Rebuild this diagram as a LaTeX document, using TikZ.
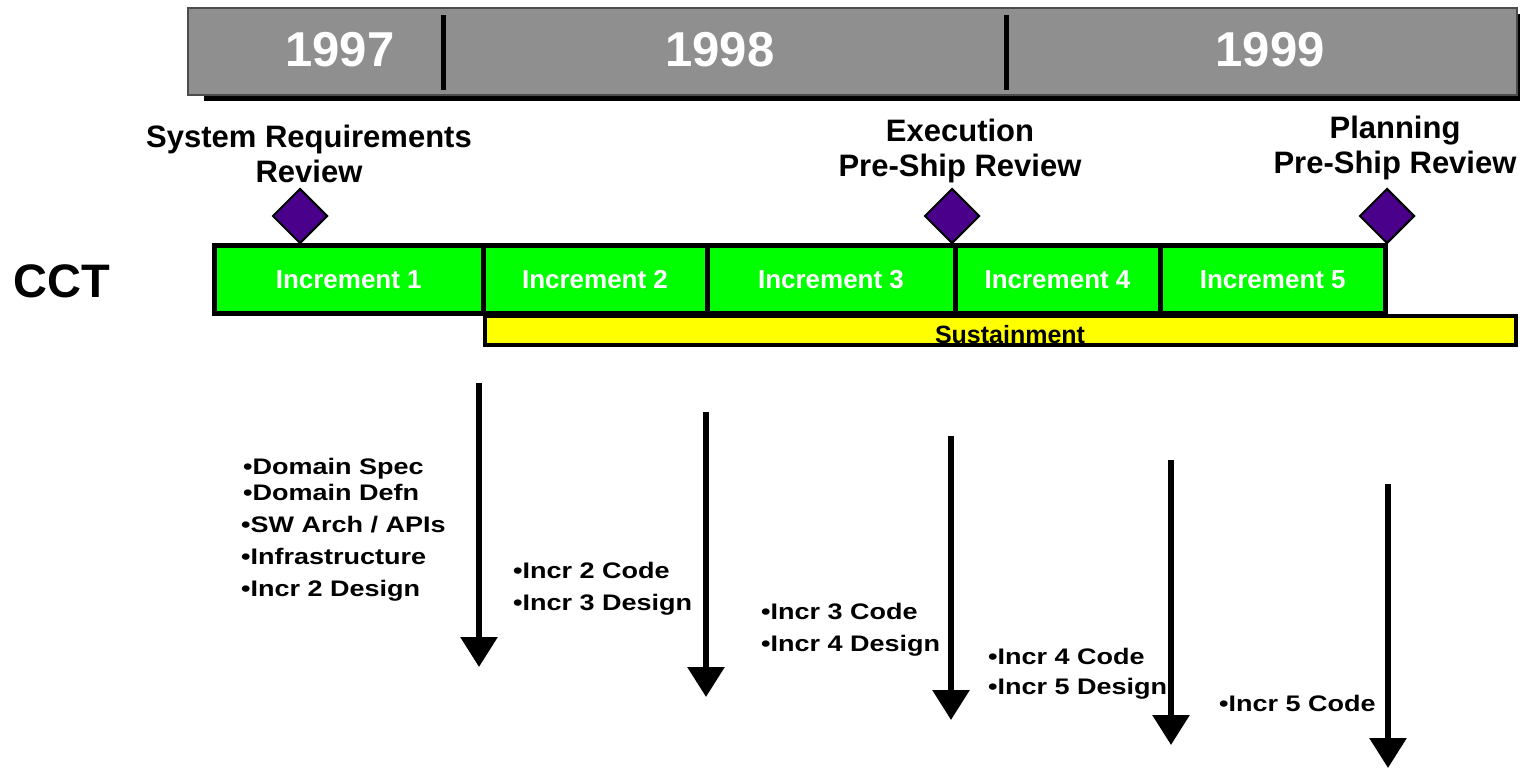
\documentclass[tikz,border=0pt]{standalone}
\usepackage{fontspec}
\setmainfont{Liberation Sans}
\newfontfamily\bulletfont[FakeStretch=1.2]{Liberation Sans}
\usetikzlibrary{
    arrows.meta,
    %backgrounds,
    %calc,
    positioning,
    shadows,
    shapes.geometric,
}
\definecolor{yeargray}{RGB}{143,143,143}
\definecolor{incrgreen}{RGB}{0,255,0}
\definecolor{sustyellow}{RGB}{255,255,0}
\definecolor{milepurple}{RGB}{75,0,140}

\begin{document}
\begin{tikzpicture}[x=1pt, y=-1pt,
    years/.style = {draw=black!70, line width=2pt, fill=yeargray, minimum width=1329pt, minimum height=87pt,
        drop shadow={shadow xshift=16pt, shadow yshift=-6pt, fill=black, opacity=1}},
    year/.style = {text=white, font=\fontsize{49}{50}\selectfont\bfseries},
    incr/.style = {draw, line width=5pt, fill=incrgreen, text=white, outer sep=0pt, inner sep=0pt,
        minimum height=68pt, font=\fontsize{26}{30}\selectfont\bfseries},
    sust/.style = {draw, line width=4pt, fill=sustyellow, minimum width=1031pt, minimum height=29pt},
    milestone/.style = {draw, diamond, line width=2pt, fill=milepurple, inner sep=0pt, minimum width=55pt, minimum height=55pt},
    review/.style = {align=center, anchor=base, inner sep=0pt, font=\fontsize{31}{35}\selectfont\bfseries},
    item/.style = {anchor=base west, inner sep=0pt, font=\bulletfont\fontsize{22.5}{26}\selectfont\bfseries},
    flow/.style = {line width=6pt, -{Triangle[width=36pt,length=30pt]}}]
    \useasboundingbox (0,0) rectangle (1520,768);

    \node[years] (yb) at (852.5,51.5) {};
    \draw[line width=5pt] (443,15) -- (443,90);
    \draw[line width=5pt] (1006,15) -- (1006,90);
    \node[year] (y1) at (340,50) {1997};
    \node[year] (y2) at (720,50) {1998};
    \node[year] (y3) at (1270,50) {1999};

    \node[anchor=base, font=\fontsize{47}{50}\selectfont\bfseries] (cct) at (62,297) {CCT};

    \node[sust] (s) at (1000.5,330.5) {};
    \node[anchor=base, inner sep=0pt, font=\fontsize{25}{28}\selectfont\bfseries] (st) at (1010,343) {Sustainment};

    \node[incr, minimum width=268.5pt] (i1) at (348.75,279.5) {Increment 1};
    \node[incr, minimum width=224pt, right=0pt of i1] (i2) {Increment 2};
    \node[incr, minimum width=248pt, right=0pt of i2] (i3) {Increment 3};
    \node[incr, minimum width=205pt, right=0pt of i3] (i4) {Increment 4};
    \node[incr, minimum width=225.5pt, right=0pt of i4] (i5) {Increment 5};

    \node[milestone] (m1) at (300,216) {};
    \node[milestone] (m2) at (952,216) {};
    \node[milestone] (m3) at (1387,216) {};
    \node[review] (r1) at (309,182) {System Requirements\\Review};
    \node[review] (r2) at (960,176) {Execution\\Pre-Ship Review};
    \node[review] (r3) at (1395,173) {Planning\\Pre-Ship Review};

    \node[item] (t11) at (243,474) {•Domain Spec};
    \node[item] (t12) at (243,500) {•Domain Defn};
    \node[item] (t13) at (241,532) {•SW Arch / APIs};
    \node[item] (t14) at (241,564) {•Infrastructure};
    \node[item] (t15) at (241,596) {•Incr 2 Design};
    \node[item] (t21) at (513,578) {•Incr 2 Code};
    \node[item] (t22) at (513,610) {•Incr 3 Design};
    \node[item] (t31) at (761,619) {•Incr 3 Code};
    \node[item] (t32) at (761,651) {•Incr 4 Design};
    \node[item] (t41) at (988,664) {•Incr 4 Code};
    \node[item] (t42) at (988,694) {•Incr 5 Design};
    \node[item] (t51) at (1219,711) {•Incr 5 Code};

    \coordinate (a1) at (479,383);
    \coordinate (b1) at (479,667);
    \coordinate (a2) at (706,412);
    \coordinate (b2) at (706,697);
    \coordinate (a3) at (951,436);
    \coordinate (b3) at (951,720);
    \coordinate (a4) at (1171,460);
    \coordinate (b4) at (1171,745);
    \coordinate (a5) at (1388,484);
    \coordinate (b5) at (1388,768);
    \draw[flow] (a1) -- (b1);
    \draw[flow] (a2) -- (b2);
    \draw[flow] (a3) -- (b3);
    \draw[flow] (a4) -- (b4);
    \draw[flow] (a5) -- (b5);
\end{tikzpicture}
\end{document}
